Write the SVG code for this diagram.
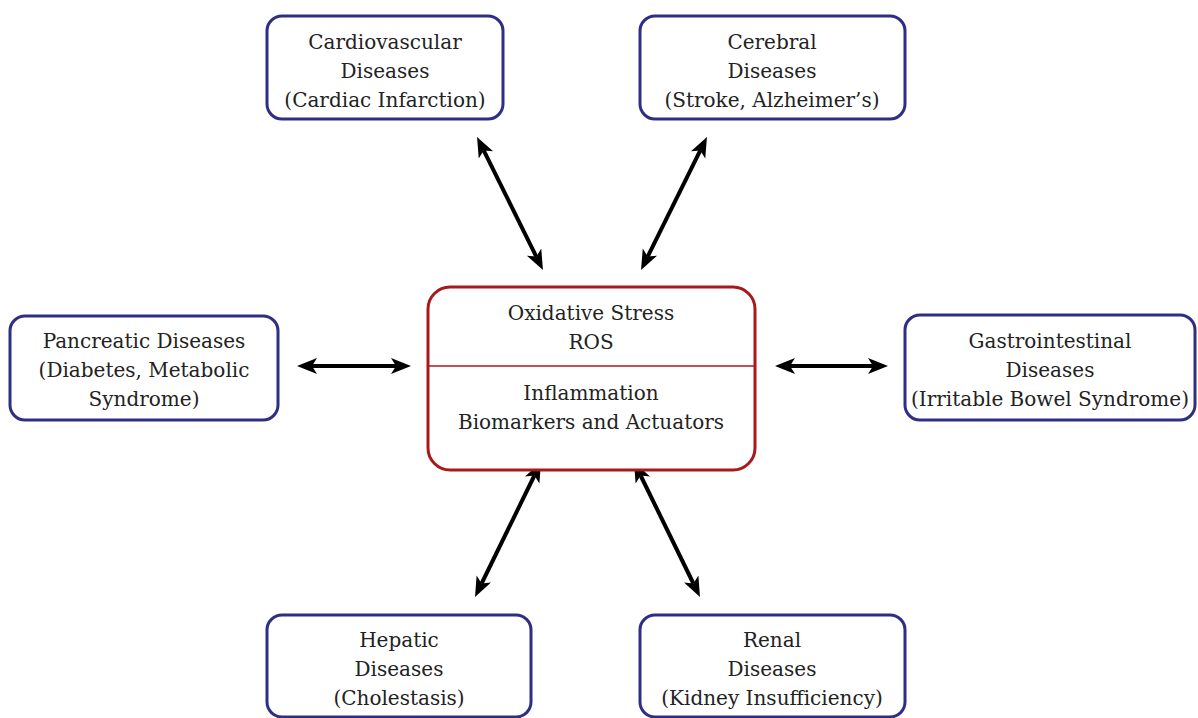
<svg xmlns="http://www.w3.org/2000/svg" width="1198" height="718" viewBox="0 0 1198 718">
<style>
.box{fill:#fff;stroke:#2e2e85;stroke-width:3}
.center{fill:#fff;stroke:#a8191c;stroke-width:3}
.div{stroke:#a8191c;stroke-width:1.5}
.conn{stroke:#000;stroke-width:4;fill:none;marker-start:url(#ah);marker-end:url(#ah)}
</style>
<defs>
<marker id="ah" markerUnits="userSpaceOnUse" markerWidth="22" markerHeight="18" refX="5" refY="8" orient="auto-start-reverse">
<path d="M0,0 L20,8 L0,16 L5,8 z" fill="#000"/>
</marker>
</defs>
<rect width="1198" height="718" fill="#fff"/>
<g id="connectors">
<line class="conn" x1="483.7" y1="150.4" x2="536.3" y2="256.6"/>
<line class="conn" x1="700.3" y1="150.4" x2="647.7" y2="256.6"/>
<line class="conn" x1="312" y1="366" x2="396" y2="366"/>
<line class="conn" x1="790" y1="366" x2="873" y2="366"/>
<line class="conn" x1="534.4" y1="475.5" x2="481.6" y2="583.5"/>
<line class="conn" x1="640.6" y1="475.5" x2="693.4" y2="583.5"/>
</g>
<g font-family="DejaVu Serif, serif" font-size="20" fill="#222" text-anchor="middle">
<g id="center">
<rect class="center" x="428" y="287" width="327" height="183" rx="22"/>
<line class="div" x1="429" y1="366" x2="754" y2="366"/>
<text x="591" y="320">Oxidative Stress</text>
<text x="591" y="349">ROS</text>
<text x="591" y="400">Inflammation</text>
<text x="591" y="429">Biomarkers and Actuators</text>
</g>
<g id="cardio">
<rect class="box" x="267" y="16" width="236" height="103" rx="15"/>
<text x="385" y="49">Cardiovascular</text>
<text x="385" y="78">Diseases</text>
<text x="385" y="107">(Cardiac Infarction)</text>
</g>
<g id="cerebral">
<rect class="box" x="640" y="16" width="265" height="103" rx="15"/>
<text x="772" y="49">Cerebral</text>
<text x="772" y="78">Diseases</text>
<text x="772" y="107">(Stroke, Alzheimer’s)</text>
</g>
<g id="pancreatic">
<rect class="box" x="10" y="316" width="268" height="104" rx="15"/>
<text x="144" y="348">Pancreatic Diseases</text>
<text x="144" y="377">(Diabetes, Metabolic</text>
<text x="144" y="406">Syndrome)</text>
</g>
<g id="gastro">
<rect class="box" x="905" y="315" width="290" height="105" rx="15"/>
<text x="1050" y="348">Gastrointestinal</text>
<text x="1050" y="377">Diseases</text>
<text x="1050" y="406">(Irritable Bowel Syndrome)</text>
</g>
<g id="hepatic">
<rect class="box" x="267" y="615" width="264" height="102" rx="15"/>
<text x="399" y="647">Hepatic</text>
<text x="399" y="676">Diseases</text>
<text x="399" y="705">(Cholestasis)</text>
</g>
<g id="renal">
<rect class="box" x="640" y="615" width="265" height="102" rx="15"/>
<text x="772" y="647">Renal</text>
<text x="772" y="676">Diseases</text>
<text x="772" y="705">(Kidney Insufficiency)</text>
</g>
</g>
</svg>
